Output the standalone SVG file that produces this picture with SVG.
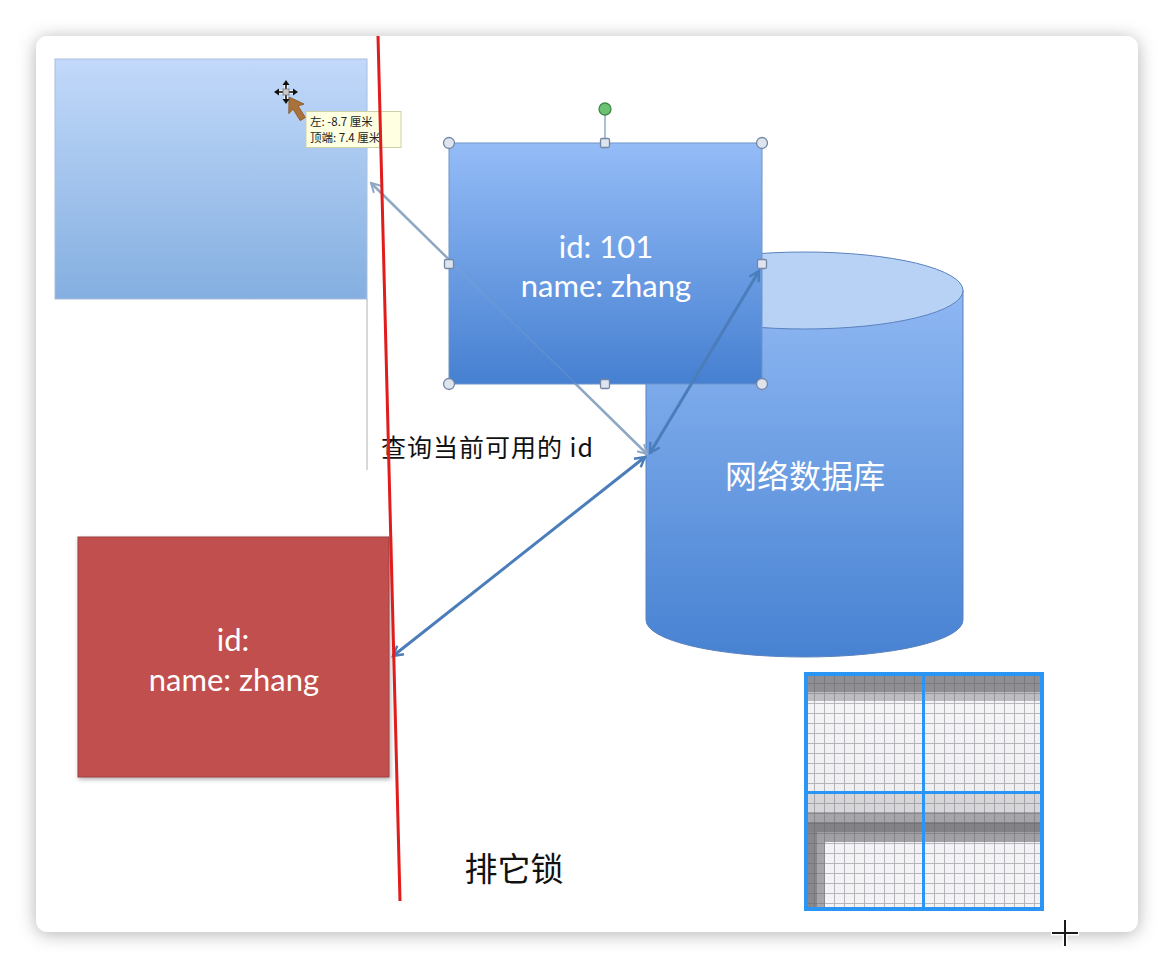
<svg xmlns="http://www.w3.org/2000/svg" width="1174" height="968" viewBox="0 0 1174 968">
<defs>
<style>
.lat{font-family:Lato,"Open Sans","Noto Sans CJK SC",sans-serif;fill:#fff}
.cjk{font-family:"Noto Sans CJK SC","Noto Sans",sans-serif}
.hdl{fill:#dde4ee;stroke:#7486a3;stroke-width:1.3}
</style>
<filter id="fs" x="-5%" y="-5%" width="110%" height="110%"><feDropShadow dx="0" dy="2" stdDeviation="9" flood-color="#000" flood-opacity="0.3"/></filter>
<filter id="bs" x="-5%" y="-5%" width="115%" height="115%"><feDropShadow dx="1" dy="2" stdDeviation="2" flood-color="#000" flood-opacity="0.3"/></filter>
<linearGradient id="gl" x1="0" y1="0" x2="0" y2="1"><stop offset="0" stop-color="#c2d9fa"/><stop offset="1" stop-color="#84afe0"/></linearGradient>
<linearGradient id="gt" x1="0" y1="0" x2="0" y2="1"><stop offset="0" stop-color="#94bcf7"/><stop offset="1" stop-color="#4680d1"/></linearGradient>
<linearGradient id="gc" x1="0" y1="0" x2="0" y2="1"><stop offset="0" stop-color="#8fb8f3"/><stop offset="1" stop-color="#4782d2"/></linearGradient>
<linearGradient id="gw" x1="0" y1="0" x2="0" y2="1"><stop offset="0" stop-color="#f6f6f8"/><stop offset="1" stop-color="#e8e8ec"/></linearGradient>
<pattern id="grid" x="805" y="674" width="10" height="10" patternUnits="userSpaceOnUse"><path d="M10 0V10M0 10H10" stroke="#5f5f68" stroke-opacity="0.42" stroke-width="2" fill="none"/></pattern>
<marker id="ag" viewBox="0 0 12 12" refX="10" refY="6" markerWidth="12" markerHeight="12" markerUnits="userSpaceOnUse" orient="auto-start-reverse"><path d="M1 1L10 6L1 11" fill="none" stroke="#8ea8c4" stroke-width="2"/></marker>
<marker id="ab" viewBox="0 0 12 12" refX="10" refY="6" markerWidth="13" markerHeight="13" markerUnits="userSpaceOnUse" orient="auto-start-reverse"><path d="M1 1L10 6L1 11" fill="none" stroke="#4a7dba" stroke-width="2.2"/></marker>
</defs>
<rect width="1174" height="968" fill="#ffffff"/>
<rect id="frame" x="36" y="36" width="1102" height="896" rx="12" fill="#ffffff" filter="url(#fs)"/>

<g id="left-rect">
<rect x="55" y="59" width="312" height="240" fill="url(#gl)" stroke="#a9bedb" stroke-width="1"/>
<line x1="367" y1="299" x2="367" y2="470" stroke="#b0b0b0" stroke-width="1"/>
</g>

<g id="database">
<path d="M646 290V620A158.5 37 0 0 0 963 620V290Z" fill="url(#gc)" stroke="#5a82bd" stroke-width="1"/>
<ellipse cx="804.5" cy="290.5" rx="158.5" ry="38.5" fill="#b8d2f6" stroke="#5a82bd" stroke-width="1"/>
<text class="cjk" x="805" y="488" font-size="32" fill="#fff" text-anchor="middle">网络数据库</text>
</g>

<g id="connectors-under">
<line x1="371" y1="183" x2="647" y2="454" stroke="#8ea8c4" stroke-width="2.5" marker-start="url(#ag)" marker-end="url(#ag)"/>
</g>

<g id="top-box">
<rect x="449" y="143" width="313" height="241" fill="url(#gt)" stroke="#6f94c8" stroke-width="1"/>
<text class="lat" x="606" y="258" font-size="31" text-anchor="middle">id: 101</text>
<text class="lat" x="606" y="297" font-size="31" text-anchor="middle">name: zhang</text>
</g>

<g id="red-box">
<rect x="78" y="537" width="311" height="240" fill="#c0504d" stroke="#9c3f3d" stroke-width="1" filter="url(#bs)"/>
<text class="lat" x="233" y="651" font-size="31" text-anchor="middle">id:</text>
<text class="lat" x="234" y="691" font-size="31" text-anchor="middle">name: zhang</text>
</g>

<g id="connectors">
<line x1="449" y1="260" x2="576" y2="384" stroke="#8ea8c4" stroke-width="2" stroke-opacity="0.2"/>
<line x1="650" y1="453" x2="759" y2="271" stroke="#4a7dba" stroke-width="3" marker-start="url(#ab)" marker-end="url(#ab)"/>
<line x1="393" y1="656" x2="645" y2="457" stroke="#4a7dba" stroke-width="3" marker-start="url(#ab)" marker-end="url(#ab)"/>
</g>

<g id="handles">
<line x1="605" y1="115" x2="605" y2="139" stroke="#7b9cc2" stroke-width="1.3"/>
<circle cx="605" cy="109" r="6" fill="#6cc173" stroke="#3e8a46" stroke-width="1.3"/>
<circle class="hdl" cx="449" cy="143" r="5.5"/>
<circle class="hdl" cx="762" cy="143" r="5.5"/>
<circle class="hdl" cx="449" cy="384" r="5.5"/>
<circle class="hdl" cx="762" cy="384" r="5.5"/>
<rect class="hdl" x="600.5" y="138.5" width="9" height="9" rx="1.5"/>
<rect class="hdl" x="600.5" y="379.5" width="9" height="9" rx="1.5"/>
<rect class="hdl" x="444.5" y="259.5" width="9" height="9" rx="1.5"/>
<rect class="hdl" x="757.5" y="259.5" width="9" height="9" rx="1.5"/>
</g>

<g id="labels">
<text class="cjk" x="381" y="457" font-size="25" font-weight="400" letter-spacing="1" fill="#111">查询当前可用的 id</text>
<text class="cjk" x="514" y="881" font-size="33" fill="#111" text-anchor="middle">排它锁</text>
</g>

<g id="tooltip">
<rect x="306" y="111.5" width="95" height="36" fill="#ffffe1" stroke="#cfcfa6" stroke-width="1"/>
<text class="cjk" x="310" y="126" font-size="11.5" fill="#222">左: -8.7 厘米</text>
<text class="cjk" x="310" y="142" font-size="11.5" fill="#222">顶端: 7.4 厘米</text>
</g>

<g id="cursor">
<path d="M0 0L-9 14L-3 12.5L-3 26L3 26L3 12.5L9 14Z" transform="translate(289 97) rotate(-32)" fill="#a8723a" stroke="#8a5a2a" stroke-width="0.8"/>
<g stroke="#fff" stroke-width="3.5" stroke-linecap="round"><line x1="277" y1="92" x2="295" y2="92"/><line x1="286" y1="83" x2="286" y2="101"/></g>
<g stroke="#111" stroke-width="1.6"><line x1="277" y1="92" x2="295" y2="92"/><line x1="286" y1="83" x2="286" y2="101"/></g>
<g fill="#111"><path d="M286 80L282.5 85H289.5Z"/><path d="M286 104L282.5 99H289.5Z"/><path d="M274 92L279 88.5V95.5Z"/><path d="M298 92L293 88.5V95.5Z"/></g>
<rect x="283" y="89" width="6" height="6" fill="#c9c9c9" stroke="#777" stroke-width="0.8"/>
</g>

<line id="red-line" x1="378" y1="36" x2="400" y2="901" stroke="#e01c1c" stroke-width="3"/>

<g id="magnifier">
<rect x="806" y="674" width="236" height="235" fill="url(#gw)"/>
<rect x="806" y="674" width="236" height="18" fill="#8e8e93"/>
<rect x="806" y="692" width="236" height="9" fill="#bdbdc1"/>
<rect x="806" y="793" width="236" height="19" fill="#d6d6d9"/>
<rect x="806" y="812" width="236" height="10" fill="#a6a6aa"/>
<rect x="806" y="822" width="236" height="10" fill="#838387"/>
<rect x="806" y="832" width="236" height="10" fill="#a1a1a5"/>
<rect x="806" y="842" width="236" height="67" fill="#f3f3f6"/>
<rect x="806" y="832" width="11" height="77" fill="#88888c"/>
<rect x="817" y="842" width="8" height="67" fill="#a6a6aa"/>
<rect x="806" y="674" width="236" height="235" fill="url(#grid)"/>
<line x1="923.5" y1="674" x2="923.5" y2="909" stroke="#2a95f5" stroke-width="3"/>
<line x1="806" y1="792.5" x2="1042" y2="792.5" stroke="#2a95f5" stroke-width="3"/>
<rect x="806" y="674" width="236" height="235" fill="none" stroke="#2a95f5" stroke-width="4"/>
</g>

<g id="crosshair">
<g stroke="#fff" stroke-width="5"><line x1="1051" y1="933" x2="1079" y2="933"/><line x1="1065" y1="919" x2="1065" y2="947"/></g>
<g stroke="#1a1a1a" stroke-width="2"><line x1="1052" y1="933" x2="1078" y2="933"/><line x1="1065" y1="920" x2="1065" y2="946"/></g>
</g>
</svg>
